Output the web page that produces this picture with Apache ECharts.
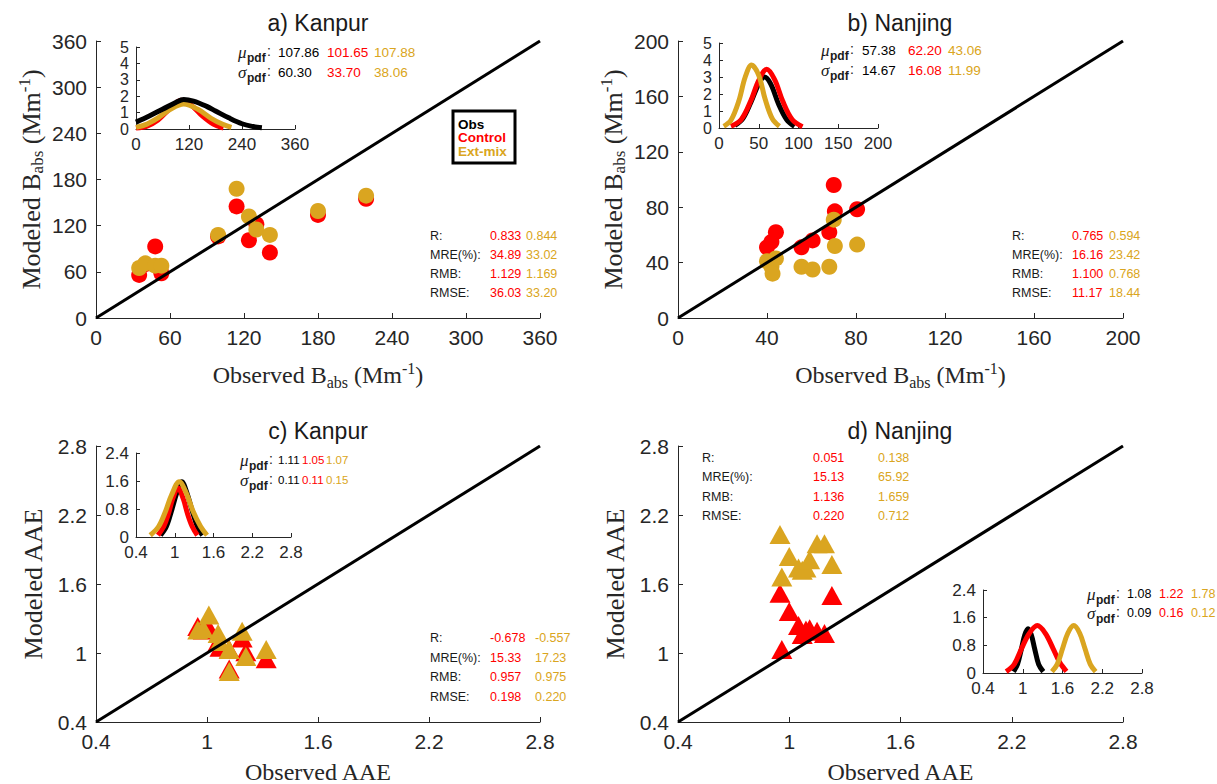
<!DOCTYPE html>
<html>
<head>
<meta charset="utf-8">
<script src="https://cdn.jsdelivr.net/npm/echarts@6/dist/echarts.min.js"></script>
<style>
  html, body { margin: 0; padding: 0; background: #fff; }
  #chart { width: 1217px; height: 784px; }
</style>
</head>
<body>
<div id="chart"></div>
<script>
// ---------- Absorption coefficient B_abs (Mm^-1): observed vs modeled ----------
const kanpurBabsObs     = [35, 40, 48, 53, 99, 114, 124, 130, 141, 180, 219];
const kanpurBabsControl = [56, 70, 93, 58, 106, 145, 101, 122, 85, 134, 155];
const kanpurBabsExtmix  = [65, 71, 68, 68, 108, 168, 132, 115, 108, 139, 159];

const nanjingBabsObs     = [40, 42, 42.5, 44, 55.5, 60.5, 68, 70, 70.5, 80.5];
const nanjingBabsControl = [51, 55, 42, 62, 51, 56, 62, 96, 77, 78.5];
const nanjingBabsExtmix  = [41, 37, 32, 43, 37, 35, 37, 71, 52, 53];

// ---------- Absorption Angstrom exponent (AAE): observed vs modeled ----------
const kanpurAaeObs     = [0.95, 0.98, 1.01, 1.06, 1.07, 1.12, 1.19, 1.21, 1.32, 1.12];
const kanpurAaeControl = [1.23, 1.20, 1.22, 1.10, 1.05, 1.03, 1.13, 1.01, 0.95, 0.86];
const kanpurAaeExtmix  = [1.20, 1.21, 1.33, 1.17, 1.10, 1.03, 1.19, 0.97, 1.03, 0.84];

const nanjingAaeObs     = [0.95, 0.96, 1.00, 1.05, 1.07, 1.09, 1.11, 1.15, 1.19, 1.23];
const nanjingAaeControl = [1.52, 1.03, 1.36, 1.24, 1.16, 1.20, 1.21, 1.19, 1.17, 1.50];
const nanjingAaeExtmix  = [2.03, 1.66, 1.84, 1.74, 1.72, 1.74, 1.81, 1.95, 1.95, 1.77];

// ---------- Probability density curves (inset panels) ----------
const kanpurBabsPdfObsX = [0, 30, 60, 90, 108, 130, 160, 180, 210, 240, 265, 285];
const kanpurBabsPdfObsY = [0.42, 0.8, 1.2, 1.62, 1.8, 1.7, 1.38, 1.1, 0.68, 0.32, 0.15, 0.07];
const kanpurBabsPdfCtlX = [0, 25, 50, 75, 102, 125, 150, 175, 198];
const kanpurBabsPdfCtlY = [0.06, 0.18, 0.55, 1.2, 1.76, 1.45, 0.8, 0.3, 0.06];
const kanpurBabsPdfExtX = [0, 25, 50, 78, 108, 140, 170, 195, 216];
const kanpurBabsPdfExtY = [0.1, 0.3, 0.68, 1.2, 1.52, 1.2, 0.65, 0.3, 0.1];

const nanjingBabsPdfObsX = [20, 30, 40, 50, 57, 65, 75, 85, 95];
const nanjingBabsPdfObsY = [0.15, 0.55, 1.5, 2.6, 3.0, 2.6, 1.4, 0.5, 0.1];
const nanjingBabsPdfCtlX = [15, 28, 40, 50, 60, 70, 80, 92, 105];
const nanjingBabsPdfCtlY = [0.1, 0.5, 1.6, 2.8, 3.45, 2.85, 1.6, 0.5, 0.08];
const nanjingBabsPdfExtX = [6, 15, 25, 33, 41, 50, 58, 67, 76];
const nanjingBabsPdfExtY = [0.1, 0.45, 1.6, 3.0, 3.7, 3.1, 1.7, 0.55, 0.1];

const kanpurAaePdfObsX = [0.78, 0.87, 0.95, 1.03, 1.11, 1.19, 1.27, 1.35, 1.43];
const kanpurAaePdfObsY = [0.05, 0.3, 0.75, 1.25, 1.58, 1.25, 0.75, 0.3, 0.05];
const kanpurAaePdfCtlX = [0.74, 0.83, 0.9, 0.97, 1.05, 1.13, 1.2, 1.27, 1.35];
const kanpurAaePdfCtlY = [0.05, 0.3, 0.65, 1.1, 1.4, 1.1, 0.65, 0.3, 0.05];
const kanpurAaePdfExtX = [0.62, 0.75, 0.85, 0.95, 1.07, 1.18, 1.28, 1.4, 1.5];
const kanpurAaePdfExtY = [0.05, 0.3, 0.7, 1.2, 1.58, 1.25, 0.75, 0.3, 0.05];

const nanjingAaePdfObsX = [0.86, 0.92, 0.98, 1.03, 1.08, 1.13, 1.18, 1.24, 1.31];
const nanjingAaePdfObsY = [0.04, 0.25, 0.7, 1.1, 1.28, 1.1, 0.7, 0.25, 0.04];
const nanjingAaePdfCtlX = [0.75, 0.87, 0.98, 1.1, 1.22, 1.34, 1.46, 1.56, 1.66];
const nanjingAaePdfCtlY = [0.04, 0.25, 0.7, 1.15, 1.37, 1.15, 0.7, 0.3, 0.05];
const nanjingAaePdfExtX = [1.44, 1.52, 1.6, 1.68, 1.77, 1.86, 1.94, 2.02, 2.1];
const nanjingAaePdfExtY = [0.04, 0.25, 0.7, 1.15, 1.37, 1.15, 0.7, 0.25, 0.04];

// ---------- Axis ticks ----------
const babsKanpurTicks  = [0, 60, 120, 180, 240, 300, 360];
const babsNanjingTicks = [0, 40, 80, 120, 160, 200];
const aaeTicks         = [0.4, 1, 1.6, 2.2, 2.8];
const pdfKanpurXTicks  = [0, 120, 240, 360];
const pdfNanjingXTicks = [0, 50, 100, 150, 200];
const pdfBabsYTicks    = [0, 1, 2, 3, 4, 5];
const pdfAaeXTicks     = [0.4, 1, 1.6, 2.2, 2.8];
const pdfAaeYTicks     = [0, 0.8, 1.6, 2.4];

// ---------- Text annotations ----------
const panelTitles = ['a) Kanpur', 'b) Nanjing', 'c) Kanpur', 'd) Nanjing'];
const legendNames = ['Obs', 'Control', 'Ext-mix'];
const statNames = ['R:', 'MRE(%):', 'RMB:', 'RMSE:'];
const kanpurBabsStatsCtl  = ['0.833', '34.89', '1.129', '36.03'];
const kanpurBabsStatsExt  = ['0.844', '33.02', '1.169', '33.20'];
const nanjingBabsStatsCtl = ['0.765', '16.16', '1.100', '11.17'];
const nanjingBabsStatsExt = ['0.594', '23.42', '0.768', '18.44'];
const kanpurAaeStatsCtl   = ['-0.678', '15.33', '0.957', '0.198'];
const kanpurAaeStatsExt   = ['-0.557', '17.23', '0.975', '0.220'];
const nanjingAaeStatsCtl  = ['0.051', '15.13', '1.136', '0.220'];
const nanjingAaeStatsExt  = ['0.138', '65.92', '1.659', '0.712'];
const kanpurBabsMu     = ['107.86', '101.65', '107.88'];
const kanpurBabsSigma  = ['60.30', '33.70', '38.06'];
const nanjingBabsMu    = ['57.38', '62.20', '43.06'];
const nanjingBabsSigma = ['14.67', '16.08', '11.99'];
const kanpurAaeMu      = ['1.11', '1.05', '1.07'];
const kanpurAaeSigma   = ['0.11', '0.11', '0.15'];
const nanjingAaeMu     = ['1.08', '1.22', '1.78'];
const nanjingAaeSigma  = ['0.09', '0.16', '0.12'];

// ---------- Styling ----------
const RED = '#ff0000';
const GOLD = '#daa520';
const BLACK = '#000000';
const SERIES_COLORS = [BLACK, RED, GOLD];
const AXIS_COLOR = '#262626';
const SANS = "'Liberation Sans', Arial, Helvetica, sans-serif";
const SERIF = "'Liberation Serif', 'Times New Roman', serif";

function nameStyle(size, lineHeight) {
  const sub = Math.round(size * 0.65);
  return {
    fontFamily: SERIF, fontSize: size, color: AXIS_COLOR, lineHeight,
    rich: {
      sub: { fontFamily: SERIF, fontSize: sub, color: AXIS_COLOR, lineHeight: sub - 2, verticalAlign: 'bottom' },
      sup: { fontFamily: SERIF, fontSize: sub, color: AXIS_COLOR, lineHeight: sub - 3, verticalAlign: 'top' }
    }
  };
}

function valueAxis(gridIndex, ticks, o) {
  const ax = {
    type: 'value', gridIndex,
    min: ticks[0], max: ticks[ticks.length - 1],
    axisLine: { show: true, onZero: false, lineStyle: { color: AXIS_COLOR, width: 1 } },
    axisTick: { show: true, inside: true, length: o.tick, customValues: ticks,
                lineStyle: { color: AXIS_COLOR, width: 1 } },
    axisLabel: { show: true, customValues: ticks, fontSize: o.font, fontFamily: SANS,
                 color: AXIS_COLOR, margin: o.margin,
                 showMinLabel: true, showMaxLabel: true, hideOverlap: false,
                 formatter: v => String(+(+v).toFixed(2)) },
    splitLine: { show: false }
  };
  if (o.name) {
    ax.name = o.name;
    ax.nameLocation = 'middle';
    ax.nameGap = o.nameGap;
    ax.nameRotate = o.rotate || 0;
    ax.nameTextStyle = o.nameStyle;
  }
  return ax;
}

const babsX = 'Observed B{sub|abs} (Mm{sup|-1})';
const babsY = 'Modeled B{sub|abs} (Mm{sup|-1})';

// grids 0-3: main panels, grids 4-7: pdf insets
const grid = [
  { left: 96,  top: 41,  width: 444, height: 277 },
  { left: 678, top: 41,  width: 445, height: 277 },
  { left: 96,  top: 446, width: 444, height: 276 },
  { left: 678, top: 446, width: 445, height: 276 },
  { left: 136, top: 47,  width: 159, height: 82 },
  { left: 719, top: 43,  width: 159, height: 85 },
  { left: 136, top: 453, width: 155, height: 84 },
  { left: 983, top: 590, width: 159, height: 83 }
].map(g => Object.assign({ outerBoundsMode: 'none', containLabel: false }, g));

const main = { tick: 5, font: 21, margin: 9 };
const inset = { tick: 4, font: 17, margin: 7 };
const insetBabsY = { tick: 4, font: 16, margin: 7 };

const xNameBabs = nameStyle(24, 30);
const xNameAae = nameStyle(24, 24);
const yName = nameStyle(26, 30);

const xAxis = [
  valueAxis(0, babsKanpurTicks,  Object.assign({ name: babsX, nameGap: 42, nameStyle: xNameBabs }, main)),
  valueAxis(1, babsNanjingTicks, Object.assign({ name: babsX, nameGap: 42, nameStyle: xNameBabs }, main)),
  valueAxis(2, aaeTicks, Object.assign({ name: 'Observed AAE', nameGap: 38, nameStyle: xNameAae }, main)),
  valueAxis(3, aaeTicks, Object.assign({ name: 'Observed AAE', nameGap: 38, nameStyle: xNameAae }, main)),
  valueAxis(4, pdfKanpurXTicks, inset),
  valueAxis(5, pdfNanjingXTicks, inset),
  valueAxis(6, pdfAaeXTicks, inset),
  valueAxis(7, pdfAaeXTicks, inset)
];
const yAxis = [
  valueAxis(0, babsKanpurTicks,  Object.assign({ name: babsY, nameGap: 50, rotate: 90, nameStyle: yName }, main)),
  valueAxis(1, babsNanjingTicks, Object.assign({ name: babsY, nameGap: 50, rotate: 90, nameStyle: yName }, main)),
  valueAxis(2, aaeTicks, Object.assign({ name: 'Modeled AAE', nameGap: 48, rotate: 90, nameStyle: yName }, main)),
  valueAxis(3, aaeTicks, Object.assign({ name: 'Modeled AAE', nameGap: 48, rotate: 90, nameStyle: yName }, main)),
  valueAxis(4, pdfBabsYTicks, insetBabsY),
  valueAxis(5, pdfBabsYTicks, insetBabsY),
  valueAxis(6, pdfAaeYTicks, inset),
  valueAxis(7, pdfAaeYTicks, inset)
];

const zip = (xs, ys) => xs.map((x, i) => [x, ys[i]]);

function scatterPanel(idx, obs, ctl, ext, ticks, symbol, size) {
  const lo = ticks[0], hi = ticks[ticks.length - 1];
  return [
    { name: 'Control', type: 'scatter', xAxisIndex: idx, yAxisIndex: idx,
      symbol, symbolSize: size, itemStyle: { color: RED, opacity: 1 },
      data: zip(obs, ctl), z: 2, silent: true },
    { name: 'Ext-mix', type: 'scatter', xAxisIndex: idx, yAxisIndex: idx,
      symbol, symbolSize: size, itemStyle: { color: GOLD, opacity: 1 },
      data: zip(obs, ext), z: 3, silent: true },
    { name: '1:1', type: 'line', xAxisIndex: idx, yAxisIndex: idx,
      data: [[lo, lo], [hi, hi]], symbol: 'none', silent: true, z: 4,
      lineStyle: { color: BLACK, width: 3 } }
  ];
}

function pdfPanel(idx, curves, order) {
  // curves: [obs, control, ext-mix] as [x[], y[]]; order sets the drawing order
  return order.map((k, n) => ({
    name: legendNames[k], type: 'line', xAxisIndex: idx, yAxisIndex: idx,
    data: zip(curves[k][0], curves[k][1]), smooth: 0.35, symbol: 'none',
    silent: true, z: 5 + n,
    lineStyle: { color: SERIES_COLORS[k], width: 5 }
  }));
}

const series = [].concat(
  scatterPanel(0, kanpurBabsObs, kanpurBabsControl, kanpurBabsExtmix, babsKanpurTicks, 'circle', 16),
  scatterPanel(1, nanjingBabsObs, nanjingBabsControl, nanjingBabsExtmix, babsNanjingTicks, 'circle', 16),
  scatterPanel(2, kanpurAaeObs, kanpurAaeControl, kanpurAaeExtmix, aaeTicks, 'triangle', [21, 19]),
  scatterPanel(3, nanjingAaeObs, nanjingAaeControl, nanjingAaeExtmix, aaeTicks, 'triangle', [21, 19]),
  pdfPanel(4, [[kanpurBabsPdfObsX, kanpurBabsPdfObsY], [kanpurBabsPdfCtlX, kanpurBabsPdfCtlY],
               [kanpurBabsPdfExtX, kanpurBabsPdfExtY]], [1, 2, 0]),
  pdfPanel(5, [[nanjingBabsPdfObsX, nanjingBabsPdfObsY], [nanjingBabsPdfCtlX, nanjingBabsPdfCtlY],
               [nanjingBabsPdfExtX, nanjingBabsPdfExtY]], [0, 1, 2]),
  pdfPanel(6, [[kanpurAaePdfObsX, kanpurAaePdfObsY], [kanpurAaePdfCtlX, kanpurAaePdfCtlY],
               [kanpurAaePdfExtX, kanpurAaePdfExtY]], [0, 1, 2]),
  pdfPanel(7, [[nanjingAaePdfObsX, nanjingAaePdfObsY], [nanjingAaePdfCtlX, nanjingAaePdfCtlY],
               [nanjingAaePdfExtX, nanjingAaePdfExtY]], [0, 1, 2])
);

// ---------- Text helpers ----------
function txt(x, y, text, font, fill, align, vAlign) {
  return {
    type: 'text', x, y, silent: true, z: 20,
    style: { text, font, fill: fill || AXIS_COLOR,
             align: align || 'left', verticalAlign: vAlign || 'middle',
             textAlign: align || 'left', textVerticalAlign: vAlign || 'middle' }
  };
}

const graphics = [];

// panel titles
[[318, 23], [900, 23], [318, 431], [900, 431]].forEach((p, i) => {
  graphics.push(txt(p[0], p[1], panelTitles[i], '23px ' + SANS, '#1a1a1a', 'center'));
});

// mu_pdf / sigma_pdf rows
function pdfStats(mx, yMu, yGap, valueX, mu, sigma, size) {
  [['\u03bc', mu, yMu], ['\u03c3', sigma, yMu + yGap]].forEach(row => {
    const y = row[2];
    graphics.push(txt(mx, y, row[0], 'italic 17px ' + SERIF, '#1a1a1a'));
    graphics.push(txt(mx + 9, y + 6, 'pdf', 'bold 12px ' + SANS, '#1a1a1a'));
    graphics.push(txt(mx + 29, y - 1, ':', '14px ' + SANS, '#1a1a1a'));
    row[1].forEach((v, i) => {
      graphics.push(txt(valueX[i], y, v, size + 'px ' + SANS, SERIES_COLORS[i]));
    });
  });
}
pdfStats(238, 52, 20, [278, 327, 374], kanpurBabsMu, kanpurBabsSigma, 13.5);
pdfStats(821, 50, 20, [862, 908, 948], nanjingBabsMu, nanjingBabsSigma, 13.5);
pdfStats(240, 460, 20, [278, 302, 326], kanpurAaeMu, kanpurAaeSigma, 11.5);
pdfStats(1087, 594, 19, [1127, 1159, 1191], nanjingAaeMu, nanjingAaeSigma, 12.5);

// error statistics blocks
function errStats(lx, cx, ex, y0, dy, ctl, ext) {
  statNames.forEach((s, i) => {
    const y = y0 + i * dy;
    graphics.push(txt(lx, y, s, '12.5px ' + SANS, '#1a1a1a'));
    graphics.push(txt(cx, y, ctl[i], '12.5px ' + SANS, RED));
    graphics.push(txt(ex, y, ext[i], '12.5px ' + SANS, GOLD));
  });
}
errStats(430, 490, 526, 236, 19, kanpurBabsStatsCtl, kanpurBabsStatsExt);
errStats(1012, 1072, 1109, 236, 19, nanjingBabsStatsCtl, nanjingBabsStatsExt);
errStats(430, 490, 535, 638, 19.7, kanpurAaeStatsCtl, kanpurAaeStatsExt);
errStats(702, 813, 878, 458, 19.3, nanjingAaeStatsCtl, nanjingAaeStatsExt);

// legend box
graphics.push({
  type: 'rect', silent: true, z: 19,
  shape: { x: 453, y: 111, width: 62, height: 52 },
  style: { fill: '#fff', stroke: BLACK, lineWidth: 3 }
});
legendNames.forEach((n, i) => {
  graphics.push(txt(458, 124 + i * 13.5, n, 'bold 13.5px ' + SANS, SERIES_COLORS[i]));
});

const chart = echarts.init(document.getElementById('chart'), null,
  { renderer: 'svg', width: 1217, height: 784 });
chart.setOption({
  animation: false,
  backgroundColor: '#ffffff',
  grid, xAxis, yAxis, series,
  graphic: { elements: graphics }
});
</script>
</body>
</html>
